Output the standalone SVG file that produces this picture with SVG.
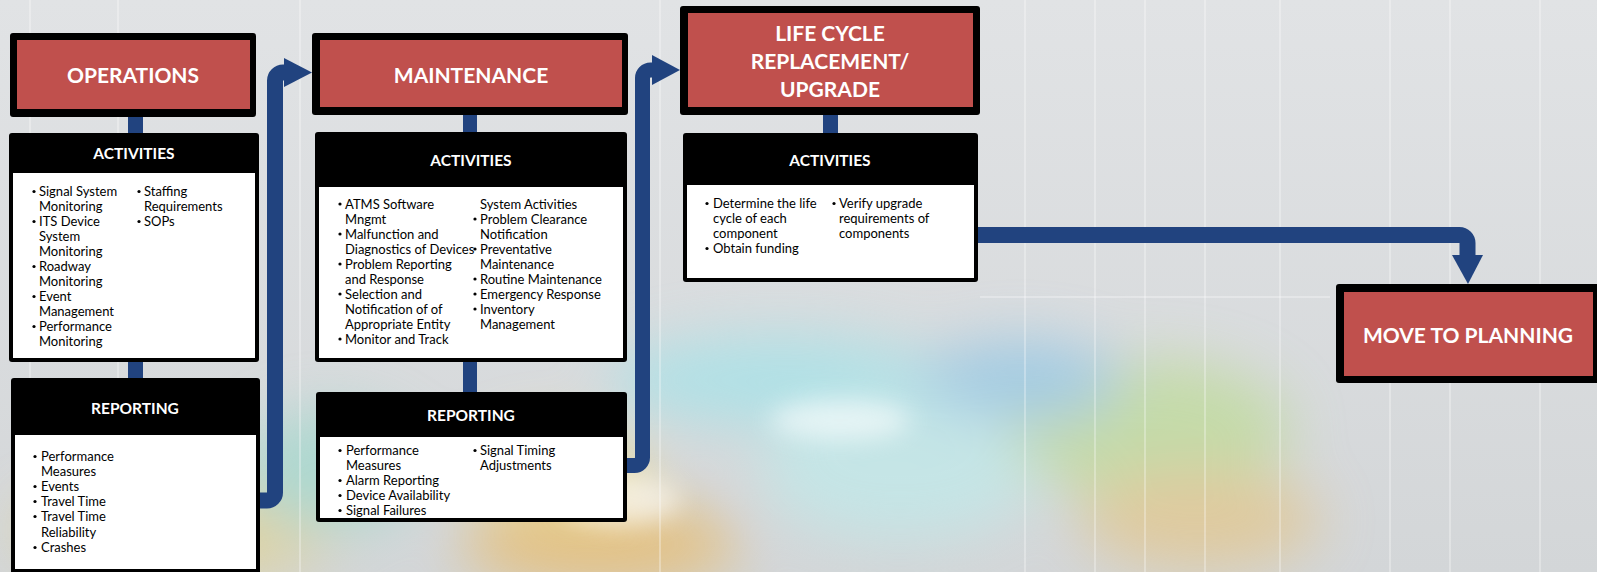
<svg xmlns="http://www.w3.org/2000/svg" width="1597" height="572" viewBox="0 0 1597 572">
<defs>
<style>
.hdr{font-family:Lato,"Liberation Sans",sans-serif;font-weight:bold;font-size:21px;fill:#fff;text-anchor:middle}
.sub{font-family:Lato,"Liberation Sans",sans-serif;font-weight:bold;font-size:15.5px;fill:#fff;text-anchor:middle}
.li{font-family:Lato,"Liberation Sans",sans-serif;font-size:13px;fill:#000}
.b{fill:#000}
.outer{fill:#000}
.red{fill:#c0504d}
.wh{fill:#fff}
.stub{fill:#21437f}
.conn{fill:none;stroke:#21437f;stroke-width:16}
.head{fill:#21437f}
.vl{stroke:#fff;stroke-width:2;opacity:0.3}
</style>
<linearGradient id="bg" x1="0" y1="0" x2="0" y2="1">
<stop offset="0" stop-color="#e1e3e5"/>
<stop offset="1" stop-color="#d3d6d8"/>
</linearGradient>
<filter id="blur" x="-50%" y="-50%" width="200%" height="200%"><feGaussianBlur stdDeviation="28"/></filter>
<filter id="blur2" x="-50%" y="-50%" width="200%" height="200%"><feGaussianBlur stdDeviation="12"/></filter>
</defs>

<g id="background">
<rect x="0" y="0" width="1597" height="572" fill="url(#bg)"/>
<g filter="url(#blur)" opacity="0.55">
<ellipse cx="180" cy="530" rx="160" ry="50" fill="#e8d070"/>
<ellipse cx="330" cy="470" rx="90" ry="60" fill="#8fd8c8"/>
<ellipse cx="600" cy="545" rx="140" ry="45" fill="#f0b040"/>
<ellipse cx="560" cy="470" rx="90" ry="40" fill="#f5e070"/>
<ellipse cx="780" cy="380" rx="170" ry="45" fill="#90e6ee"/>
<ellipse cx="900" cy="470" rx="140" ry="70" fill="#b8f0f0"/>
<ellipse cx="1150" cy="430" rx="140" ry="70" fill="#b6dc80"/>
<ellipse cx="1200" cy="520" rx="120" ry="50" fill="#e8c070"/>
<ellipse cx="1020" cy="380" rx="100" ry="40" fill="#78c0e8"/>
</g>
<g filter="url(#blur2)" opacity="0.6">
<ellipse cx="620" cy="500" rx="60" ry="25" fill="#ffffff"/>
<ellipse cx="840" cy="420" rx="70" ry="20" fill="#ffffff"/>
</g>
<line class="vl" x1="30" y1="0" x2="30" y2="572"/>
<line class="vl" x1="118" y1="0" x2="118" y2="572"/>
<line class="vl" x1="300" y1="0" x2="300" y2="572"/>
<line class="vl" x1="660" y1="0" x2="660" y2="572"/>
<line class="vl" x1="1025" y1="0" x2="1025" y2="572"/>
<line class="vl" x1="1095" y1="0" x2="1095" y2="572"/>
<line class="vl" x1="1145" y1="0" x2="1145" y2="572"/>
<line class="vl" x1="1205" y1="0" x2="1205" y2="572"/>
<line class="vl" x1="1280" y1="0" x2="1280" y2="572"/>
<line class="vl" x1="1390" y1="0" x2="1390" y2="572"/>
<line class="vl" x1="1450" y1="0" x2="1450" y2="572"/>
<line class="vl" x1="1540" y1="0" x2="1540" y2="572"/>
<line class="vl" x1="980" y1="297" x2="1330" y2="297"/>
</g>

<g id="connectors">
<rect class="stub" x="128" y="115" width="15" height="20"/>
<rect class="stub" x="128" y="360" width="15" height="20"/>
<rect class="stub" x="463" y="113" width="14" height="21"/>
<rect class="stub" x="463" y="360" width="14" height="34"/>
<rect class="stub" x="823" y="113" width="15" height="22"/>
<path class="conn" d="M258,500.5 H267 A8,8 0 0 0 275,492.5 V80.5 A8,8 0 0 1 283,72.5 H286"/>
<polygon class="head" points="284,58 312,72.5 284,87"/>
<path class="conn" style="stroke-width:15" d="M624,465.5 H634.5 A8,8 0 0 0 642.5,457.5 V78 A8,8 0 0 1 650.5,70 H654"/>
<polygon class="head" points="652,55 680,70 652,85"/>
<path class="conn" d="M977,235 H1459.5 A8,8 0 0 1 1467.5,243 V257"/>
<polygon class="head" points="1452,255 1483,255 1468,284"/>
</g>

<g id="operations">
<rect class="outer" x="10" y="33" width="246" height="84" rx="3"/>
<rect class="red" x="17" y="40" width="233" height="69"/>
<text class="hdr" x="133" y="83">OPERATIONS</text>
</g>

<g id="operations-activities">
<rect class="outer" x="9" y="133" width="250" height="229" rx="3"/>
<rect class="wh" x="13" y="173" width="242" height="185"/>
<text class="sub" x="134" y="158.5">ACTIVITIES</text>
<g class="b">
<circle cx="34" cy="191.5" r="1.6"/><circle cx="34" cy="221.5" r="1.6"/><circle cx="34" cy="266.5" r="1.6"/><circle cx="34" cy="296.5" r="1.6"/><circle cx="34" cy="326.5" r="1.6"/>
<circle cx="139" cy="191.5" r="1.6"/><circle cx="139" cy="221.5" r="1.6"/>
</g>
<g class="li">
<text x="39" y="196">Signal System</text>
<text x="39" y="211">Monitoring</text>
<text x="39" y="226">ITS Device</text>
<text x="39" y="241">System</text>
<text x="39" y="256">Monitoring</text>
<text x="39" y="271">Roadway</text>
<text x="39" y="286">Monitoring</text>
<text x="39" y="301">Event</text>
<text x="39" y="316">Management</text>
<text x="39" y="331">Performance</text>
<text x="39" y="346">Monitoring</text>
<text x="144" y="196">Staffing</text>
<text x="144" y="211">Requirements</text>
<text x="144" y="226">SOPs</text>
</g>
</g>

<g id="operations-reporting">
<rect class="outer" x="11" y="378" width="249" height="200" rx="3"/>
<rect class="wh" x="15" y="435" width="241" height="134"/>
<text class="sub" x="135" y="413.5">REPORTING</text>
<g class="b">
<circle cx="35" cy="456.5" r="1.6"/><circle cx="35" cy="486.5" r="1.6"/><circle cx="35" cy="501.5" r="1.6"/><circle cx="35" cy="516.5" r="1.6"/><circle cx="35" cy="547.5" r="1.6"/>
</g>
<g class="li">
<text x="41" y="461">Performance</text>
<text x="41" y="476">Measures</text>
<text x="41" y="491">Events</text>
<text x="41" y="506">Travel Time</text>
<text x="41" y="521">Travel Time</text>
<text x="41" y="537">Reliability</text>
<text x="41" y="552">Crashes</text>
</g>
</g>

<g id="maintenance">
<rect class="outer" x="312" y="33" width="316" height="82" rx="3"/>
<rect class="red" x="320" y="40" width="302" height="67"/>
<text class="hdr" x="471" y="83">MAINTENANCE</text>
</g>

<g id="maintenance-activities">
<rect class="outer" x="315" y="132" width="312" height="230" rx="3"/>
<rect class="wh" x="319" y="187" width="304" height="171"/>
<text class="sub" x="471" y="165.5">ACTIVITIES</text>
<g class="b">
<circle cx="340" cy="204" r="1.6"/><circle cx="340" cy="234" r="1.6"/><circle cx="340" cy="264" r="1.6"/><circle cx="340" cy="294" r="1.6"/><circle cx="340" cy="339" r="1.6"/>
<circle cx="475" cy="219" r="1.6"/><circle cx="475" cy="249" r="1.6"/><circle cx="475" cy="279" r="1.6"/><circle cx="475" cy="294" r="1.6"/><circle cx="475" cy="309" r="1.6"/>
</g>
<g class="li">
<text x="345" y="208.5">ATMS Software</text>
<text x="345" y="223.5">Mngmt</text>
<text x="345" y="238.5">Malfunction and</text>
<text x="345" y="253.5">Diagnostics of Devices</text>
<text x="345" y="268.5">Problem Reporting</text>
<text x="345" y="283.5">and Response</text>
<text x="345" y="298.5">Selection and</text>
<text x="345" y="313.5">Notification of of</text>
<text x="345" y="328.5">Appropriate Entity</text>
<text x="345" y="343.5">Monitor and Track</text>
<text x="480" y="208.5">System Activities</text>
<text x="480" y="223.5">Problem Clearance</text>
<text x="480" y="238.5">Notification</text>
<text x="480" y="253.5">Preventative</text>
<text x="480" y="268.5">Maintenance</text>
<text x="480" y="283.5">Routine Maintenance</text>
<text x="480" y="298.5">Emergency Response</text>
<text x="480" y="313.5">Inventory</text>
<text x="480" y="328.5">Management</text>
</g>
</g>

<g id="maintenance-reporting">
<rect class="outer" x="316" y="392" width="311" height="130" rx="3"/>
<rect class="wh" x="320" y="437" width="303" height="81"/>
<text class="sub" x="471" y="420.5">REPORTING</text>
<g class="b">
<circle cx="340" cy="450.5" r="1.6"/><circle cx="340" cy="480.5" r="1.6"/><circle cx="340" cy="495.5" r="1.6"/><circle cx="340" cy="510.5" r="1.6"/>
<circle cx="475" cy="450.5" r="1.6"/>
</g>
<g class="li">
<text x="346" y="455">Performance</text>
<text x="346" y="470">Measures</text>
<text x="346" y="485">Alarm Reporting</text>
<text x="346" y="500">Device Availability</text>
<text x="346" y="515">Signal Failures</text>
<text x="480" y="455">Signal Timing</text>
<text x="480" y="470">Adjustments</text>
</g>
</g>

<g id="lifecycle">
<rect class="outer" x="680" y="6" width="300" height="109" rx="3"/>
<rect class="red" x="688" y="13" width="285" height="94"/>
<text class="hdr" x="830" y="41">LIFE CYCLE</text>
<text class="hdr" x="830" y="69">REPLACEMENT/</text>
<text class="hdr" x="830" y="97">UPGRADE</text>
</g>

<g id="lifecycle-activities">
<rect class="outer" x="683" y="133" width="295" height="149" rx="3"/>
<rect class="wh" x="687" y="185" width="287" height="93"/>
<text class="sub" x="830" y="165.5">ACTIVITIES</text>
<g class="b">
<circle cx="707" cy="203.5" r="1.6"/><circle cx="707" cy="248.5" r="1.6"/>
<circle cx="834" cy="203.5" r="1.6"/>
</g>
<g class="li">
<text x="713" y="208">Determine the life</text>
<text x="713" y="223">cycle of each</text>
<text x="713" y="238">component</text>
<text x="713" y="253">Obtain funding</text>
<text x="839" y="208">Verify upgrade</text>
<text x="839" y="223">requirements of</text>
<text x="839" y="238">components</text>
</g>
</g>

<g id="move-to-planning">
<rect class="outer" x="1336" y="284" width="270" height="99" rx="3"/>
<rect class="red" x="1344" y="292" width="249" height="84"/>
<text class="hdr" x="1468" y="343">MOVE TO PLANNING</text>
</g>
</svg>
